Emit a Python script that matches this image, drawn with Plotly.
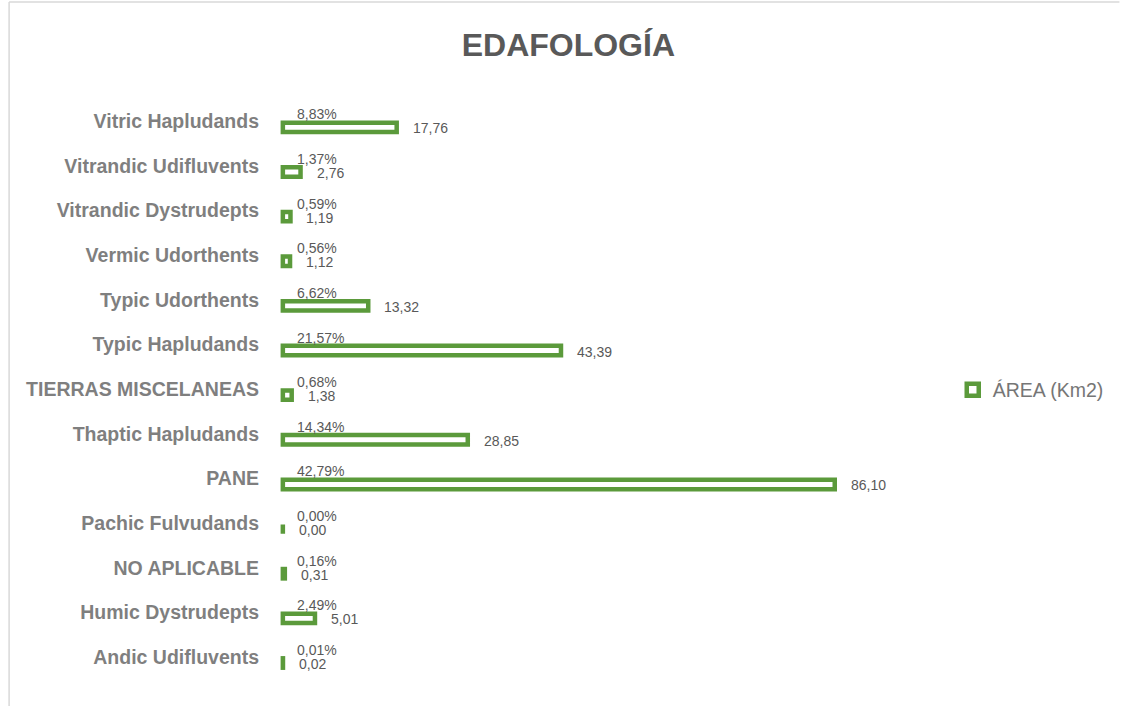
import plotly.graph_objects as go

categories = ["Vitric Hapludands", "Vitrandic Udifluvents", "Vitrandic Dystrudepts",
              "Vermic Udorthents", "Typic Udorthents", "Typic Hapludands",
              "TIERRAS MISCELANEAS", "Thaptic Hapludands", "PANE",
              "Pachic Fulvudands", "NO APLICABLE", "Humic Dystrudepts",
              "Andic Udifluvents"]
area_km2 = [17.76, 2.76, 1.19, 1.12, 13.32, 43.39, 1.38, 28.85, 86.10,
            0.00, 0.31, 5.01, 0.02]
percent = [8.83, 1.37, 0.59, 0.56, 6.62, 21.57, 0.68, 14.34, 42.79,
           0.00, 0.16, 2.49, 0.01]

GREEN = "#5b9a3b"
W, H = 1121, 706
ML, MR, MT, MB = 279, 196, 105, 20
PW, PH = W - ML - MR, H - MT - MB


def comma(v, pct=False):
    s = f"{v:.2f}".replace(".", ",")
    return s + ("%" if pct else "")


fig = go.Figure()
fig.add_trace(go.Bar(
    y=categories, x=area_km2, orientation="h", name="ÁREA (Km2)",
    width=0.21, cliponaxis=False,
    marker=dict(color="white", line=dict(color=GREEN, width=4.5)),
    hoverinfo="x+y",
))

annotations = []
for c, a, p in zip(categories, area_km2, percent):
    annotations.append(dict(x=a, y=c, xref="x", yref="y", text=comma(a),
                            showarrow=False, xanchor="left", yanchor="middle",
                            xshift=14, yshift=-1,
                            font=dict(family="Liberation Sans, Arial", size=14, color="#595959")))
    annotations.append(dict(x=0, y=c, xref="x", yref="y", text=comma(p, True),
                            showarrow=False, xanchor="left", yanchor="middle",
                            xshift=12, yshift=13,
                            font=dict(family="Liberation Sans, Arial", size=14, color="#595959")))


def px_x(p):
    return (p - ML) / PW


def px_y(p):
    return (H - MB - p) / PH


shapes = [
    dict(type="line", xref="paper", yref="paper", x0=px_x(7), x1=px_x(W + 5),
         y0=px_y(2), y1=px_y(2), line=dict(color="#d9d9d9", width=1.5)),
    dict(type="line", xref="paper", yref="paper", x0=px_x(7), x1=px_x(7),
         y0=px_y(2), y1=px_y(H + 5), line=dict(color="#d9d9d9", width=1.5)),
]

fig.update_layout(
    width=W, height=H,
    margin=dict(l=ML, r=MR, t=MT, b=MB),
    paper_bgcolor="white", plot_bgcolor="white",
    title=dict(text="<b>EDAFOLOGÍA</b>", x=0.507, xref="container", xanchor="center",
               y=1 - 45 / H, yref="container", yanchor="middle",
               font=dict(family="Liberation Sans, Arial", size=32, color="#595959")),
    xaxis=dict(range=[-0.6, 99.4], visible=False, fixedrange=True),
    yaxis=dict(type="category", categoryorder="array", categoryarray=categories,
               autorange="reversed", showgrid=False, zeroline=False, showline=False,
               ticks="", ticklabelstandoff=19, ticklabelshift=6,
               tickfont=dict(family="Liberation Sans, Arial", size=19.5, color="#7f7f7f",
                             weight="bold")),
    showlegend=True,
    legend=dict(x=px_x(958), y=px_y(390), xanchor="left", yanchor="middle",
                font=dict(family="Liberation Sans, Arial", size=19.5, color="#767676"),
                itemwidth=30),
    annotations=annotations,
    shapes=shapes,
    bargap=0.2,
)

fig.write_html("out.html", config={"displayModeBar": False},
               post_script="document.body.style.margin='0';")
